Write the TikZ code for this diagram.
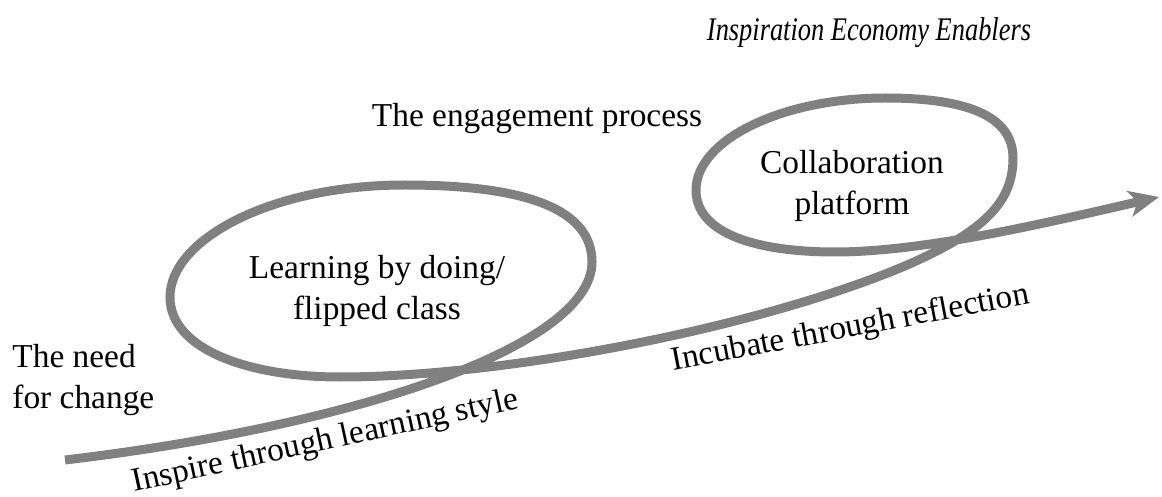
\documentclass[tikz,border=0pt]{standalone}
\usepackage{fontspec}
\setmainfont{Liberation Serif}
\usetikzlibrary{arrows.meta}
\definecolor{loopgray}{HTML}{808080}
\begin{document}
\begin{tikzpicture}[x=0.5pt,y=-0.5pt,
  lbl/.style={font=\fontsize{16.7}{20.5}\selectfont, inner sep=0pt, text=black},
  flow/.style={draw=loopgray, line width=4.5pt, -{Stealth[length=15pt,width=13pt,inset=4pt]}}]
\useasboundingbox (0,0) rectangle (1162,497);
\coordinate (start) at (65,460);
\coordinate (tip) at (1159,197);
\draw[flow] (start) .. controls (360,425) and (592,345) .. (592,262)
  .. controls (592,205) and (515,185) .. (405,185)
  .. controls (270,185) and (170,240) .. (170,297)
  .. controls (170,350) and (250,377) .. (340,377)
  .. controls (500,377) and (750,330) .. (900,268)
  .. controls (988,231) and (1013,200) .. (1013,158)
  .. controls (1013,115) and (965,98) .. (885,98)
  .. controls (782,98) and (696,140) .. (696,190)
  .. controls (696,235) and (760,252) .. (835,252)
  .. controls (925,252) and (1050,222) .. (tip);
\node[lbl, font=\fontsize{16.5}{20.5}\selectfont\itshape, anchor=base, xscale=0.8] (title) at (869,41) {Inspiration Economy Enablers};
\node[lbl, anchor=base] (engage) at (537,127) {The engagement process};
\node[lbl, align=center] (collab) at (852,186) {Collaboration\\platform};
\node[lbl, align=center] (learn) at (377,291) {Learning by doing/\\flipped class};
\node[lbl, align=left, anchor=west] (need) at (12,380) {The need\\for change};
\node[lbl, anchor=base, rotate=12.3] (inspire) at (327,450) {Inspire through learning style};
\node[lbl, anchor=base, rotate=10.7] (incubate) at (852,337) {Incubate through reflection};
\end{tikzpicture}
\end{document}
